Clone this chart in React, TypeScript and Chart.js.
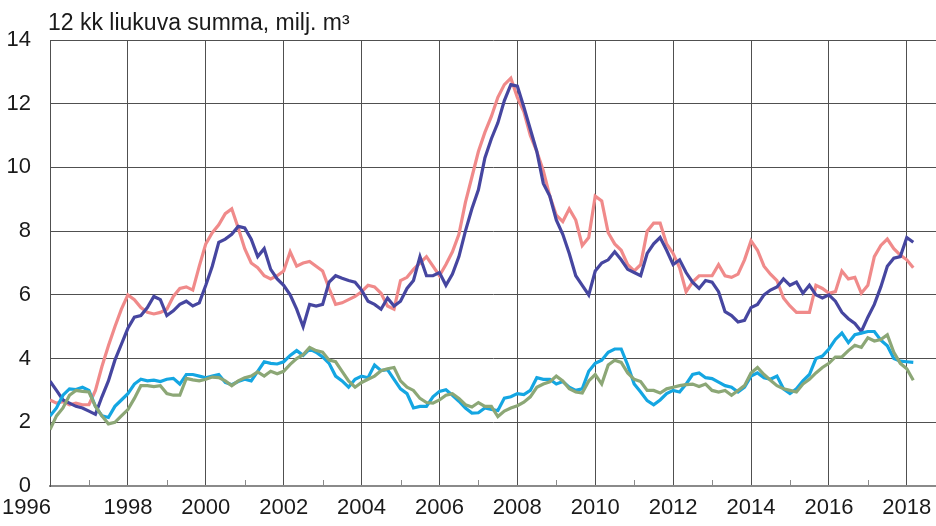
import React, { useEffect, useRef } from "react";
import { Chart, registerables } from "chart.js";

Chart.register(...registerables);

const START_YEAR = 1996;
const STEPS_PER_YEAR = 6;
const X_MIN = 1996;
const X_MAX = 2018.75;
const yTickValues = [0, 2, 4, 6, 8, 10, 12, 14];
const xTickYears = [1996, 1998, 2000, 2002, 2004, 2006, 2008, 2010, 2012, 2014, 2016, 2018];
const minorTickYears = [1997, 1999, 2001, 2003, 2005, 2007, 2009, 2011, 2013, 2015, 2017];
const titleText = "12 kk liukuva summa, milj. m³";

// bimonthly values from 1996.0
const pinkSeries = [
  2.7, 2.6, 2.65, 2.55, 2.6, 2.55,
  2.55, 3.0, 3.75, 4.4, 5.0, 5.55,
  6.0, 5.85, 5.6, 5.45, 5.4, 5.45,
  5.55, 5.95, 6.2, 6.25, 6.15, 6.9,
  7.6, 7.95, 8.2, 8.55, 8.7, 8.1,
  7.45, 7.0, 6.85, 6.6, 6.5, 6.6,
  6.75, 7.35, 6.9, 7.0, 7.05, 6.9,
  6.75, 6.2, 5.7, 5.75, 5.85, 5.95,
  6.1, 6.3, 6.25, 6.05, 5.65, 5.55,
  6.45, 6.55, 6.8, 7.0, 7.2, 6.9,
  6.6, 6.95, 7.35, 7.9, 8.9, 9.7,
  10.5, 11.1, 11.6, 12.2, 12.6, 12.8,
  12.2, 11.75, 11.0, 10.5, 9.9, 9.1,
  8.5, 8.3, 8.7, 8.35, 7.55, 7.8,
  9.1, 8.95, 7.95, 7.6, 7.4, 6.95,
  6.75, 6.95, 8.0, 8.25, 8.25, 7.6,
  7.3, 6.85, 6.1, 6.4, 6.6, 6.6,
  6.6, 6.95, 6.6, 6.55, 6.65, 7.1,
  7.7, 7.4, 6.9, 6.65, 6.45, 5.9,
  5.65, 5.45, 5.45, 5.45, 6.3, 6.2,
  6.05, 6.1, 6.75, 6.5, 6.55, 6.05,
  6.3, 7.2, 7.55, 7.75, 7.45, 7.25,
  7.1, 6.85,
];

const blueSeries = [
  3.29, 3.0, 2.7, 2.6, 2.5, 2.45,
  2.35, 2.25, 2.8, 3.3, 3.95, 4.45,
  4.95, 5.3, 5.35, 5.6, 5.95, 5.85,
  5.35, 5.5, 5.7, 5.8, 5.65, 5.75,
  6.3, 6.9, 7.65, 7.75, 7.9, 8.15,
  8.1, 7.75, 7.2, 7.45, 6.8, 6.5,
  6.3, 6.0, 5.55, 5.0, 5.7, 5.65,
  5.7, 6.4, 6.6, 6.52, 6.45, 6.4,
  6.15, 5.8, 5.7, 5.55, 5.9, 5.65,
  5.8, 6.2, 6.45, 7.2, 6.6, 6.6,
  6.7, 6.3, 6.65, 7.2, 8.0, 8.7,
  9.3, 10.3, 10.9, 11.4, 12.1, 12.6,
  12.55, 11.9, 11.2, 10.5, 9.5, 9.1,
  8.35, 7.9, 7.3, 6.6, 6.3, 6.0,
  6.75, 7.0, 7.1, 7.35, 7.1, 6.8,
  6.7, 6.6, 7.3, 7.6, 7.8, 7.4,
  6.95, 7.1, 6.7, 6.4, 6.2, 6.45,
  6.4, 6.1, 5.47, 5.35, 5.15, 5.2,
  5.6, 5.7, 6.0, 6.15, 6.25, 6.5,
  6.3, 6.4, 6.05, 6.3, 6.0, 5.9,
  6.0, 5.8, 5.45, 5.25, 5.1, 4.85,
  5.3, 5.7, 6.25, 6.9, 7.15, 7.2,
  7.8, 7.65,
];

const cyanSeries = [
  2.2, 2.45, 2.85, 3.05, 3.03, 3.1,
  3.0, 2.5, 2.2, 2.15, 2.5, 2.7,
  2.9, 3.2, 3.35, 3.3, 3.32, 3.28,
  3.35, 3.38, 3.2, 3.5, 3.5, 3.45,
  3.4, 3.45, 3.5, 3.25, 3.18, 3.28,
  3.35, 3.3, 3.6, 3.9, 3.85, 3.83,
  3.9, 4.1, 4.25, 4.1, 4.3, 4.2,
  4.05, 3.85, 3.45, 3.3, 3.1, 3.35,
  3.45, 3.4, 3.8, 3.62, 3.65, 3.35,
  3.05, 2.9, 2.45, 2.5, 2.5, 2.8,
  2.97, 3.02, 2.85, 2.66, 2.45, 2.29,
  2.3, 2.45, 2.4, 2.37, 2.76, 2.8,
  2.9, 2.87, 3.0, 3.4, 3.35, 3.35,
  3.2, 3.28, 3.1, 3.0, 3.05, 3.6,
  3.85, 3.95, 4.2, 4.3, 4.3, 3.8,
  3.2, 2.95, 2.68, 2.55, 2.7, 2.9,
  3.0, 2.95, 3.2, 3.5, 3.55, 3.4,
  3.37, 3.26, 3.15, 3.1, 2.95, 3.1,
  3.45, 3.55, 3.4, 3.35, 3.45, 3.05,
  2.9, 3.05, 3.3, 3.5, 4.0, 4.08,
  4.3, 4.6, 4.8, 4.5, 4.75, 4.8,
  4.85, 4.85, 4.58, 4.4, 4.0, 3.92,
  3.9, 3.88,
];

const greenSeries = [
  1.77, 2.2, 2.45, 2.85, 3.0, 2.97,
  2.95, 2.5, 2.2, 1.95, 2.0, 2.2,
  2.4, 2.75, 3.15, 3.15, 3.12, 3.15,
  2.9, 2.85, 2.85, 3.38, 3.33, 3.3,
  3.35, 3.42, 3.4, 3.3, 3.15, 3.3,
  3.4, 3.45, 3.58, 3.45, 3.6, 3.52,
  3.6, 3.82, 4.0, 4.12, 4.35, 4.25,
  4.2, 3.95, 3.9, 3.6, 3.3, 3.1,
  3.25, 3.35, 3.45, 3.62, 3.68, 3.72,
  3.3, 3.1, 3.0, 2.75, 2.62, 2.6,
  2.7, 2.85, 2.9, 2.75, 2.55, 2.48,
  2.62, 2.5, 2.5, 2.18, 2.35, 2.45,
  2.52, 2.63, 2.8, 3.1, 3.2, 3.27,
  3.45, 3.3, 3.05, 2.95, 2.92, 3.3,
  3.5, 3.2, 3.8, 3.95, 3.88, 3.55,
  3.35, 3.28, 3.0, 3.0, 2.92, 3.05,
  3.1, 3.15, 3.18, 3.2, 3.12, 3.2,
  3.0, 2.95, 3.0, 2.85, 3.0, 3.15,
  3.55, 3.72, 3.5, 3.32, 3.15, 3.05,
  3.0, 2.95, 3.2, 3.35, 3.55, 3.72,
  3.85, 4.05, 4.05, 4.25, 4.42, 4.35,
  4.65, 4.55, 4.6, 4.75, 4.2, 3.85,
  3.68, 3.32,
];

const FONT = '22px "Liberation Sans", Arial, sans-serif';
const TITLE_FONT = '23px "Liberation Sans", Arial, sans-serif';
const TEXT_COLOR = "#1a1a1a";
const GRID_COLOR = "#505050";

export default function App() {
  const canvasRef = useRef<HTMLCanvasElement | null>(null);

  useEffect(() => {
    const canvas = canvasRef.current;
    if (!canvas) return;
    const toPoints = (arr: number[]) =>
      arr.map((v, i) => ({ x: START_YEAR + i / STEPS_PER_YEAR, y: v }));

    const labelPlugin = {
      id: "customLabels",
      afterDraw(chart: any) {
        const { ctx, chartArea, scales } = chart;
        const xs = scales.x;
        const ys = scales.y;
        ctx.save();
        ctx.fillStyle = TEXT_COLOR;
        // title
        ctx.font = TITLE_FONT;
        ctx.textAlign = "left";
        ctx.textBaseline = "alphabetic";
        ctx.fillText(titleText, chartArea.left - 2, 30);
        ctx.font = FONT;
        // y labels
        ctx.textAlign = "right";
        ctx.textBaseline = "middle";
        yTickValues.forEach((v) => {
          ctx.fillText(String(v), chartArea.left - 19, ys.getPixelForValue(v));
        });
        // x labels
        ctx.textBaseline = "top";
        xTickYears.forEach((yr, i) => {
          const label = String(yr);
          const px = xs.getPixelForValue(yr);
          if (i === 0) {
            ctx.textAlign = "left";
            ctx.fillText(label, 2, chartArea.bottom + 11);
          } else {
            ctx.textAlign = "center";
            ctx.fillText(label, px, chartArea.bottom + 11);
          }
        });
        // minor ticks
        ctx.strokeStyle = "#8a8a8a";
        ctx.lineWidth = 1;
        minorTickYears.forEach((yr) => {
          const px = Math.round(xs.getPixelForValue(yr)) + 0.5;
          ctx.beginPath();
          ctx.moveTo(px, chartArea.bottom);
          ctx.lineTo(px, chartArea.bottom - 6);
          ctx.stroke();
        });
        ctx.restore();
      },
    };

    const chart = new Chart(canvas, {
      type: "line",
      data: {
        datasets: [
          {
            label: "green",
            data: toPoints(greenSeries),
            borderColor: "#8ca776",
            borderWidth: 3.2,
            pointRadius: 0,
            order: 0,
          },
          {
            label: "cyan",
            data: toPoints(cyanSeries),
            borderColor: "#14a6e2",
            borderWidth: 3.2,
            pointRadius: 0,
            order: 1,
          },
          {
            label: "blue",
            data: toPoints(blueSeries),
            borderColor: "#4646a0",
            borderWidth: 3.2,
            pointRadius: 0,
            order: 2,
          },
          {
            label: "pink",
            data: toPoints(pinkSeries),
            borderColor: "#f08a8a",
            borderWidth: 3.2,
            pointRadius: 0,
            order: 3,
          },
        ],
      },
      options: {
        responsive: false,
        animation: false,
        devicePixelRatio: 1,
        layout: { padding: { top: 40, left: 50, right: 0, bottom: 40 } },
        plugins: {
          legend: { display: false },
          tooltip: { enabled: false },
          title: { display: false },
        },
        elements: { line: { tension: 0 } },
        scales: {
          x: {
            type: "linear",
            min: X_MIN,
            max: X_MAX,
            ticks: { display: false, stepSize: 2, includeBounds: false },
            grid: { color: GRID_COLOR, lineWidth: 1, drawTicks: false },
            border: { display: true, color: "#8a8a8a", width: 2 },
          },
          y: {
            min: 0,
            max: 14,
            ticks: { display: false, stepSize: 2 },
            grid: { color: GRID_COLOR, lineWidth: 1, drawTicks: false },
            border: { display: true, color: GRID_COLOR, width: 1 },
          },
        },
      },
      plugins: [labelPlugin],
    });
    return () => chart.destroy();
  }, []);

  return (
    <div style={{ position: "fixed", left: 0, top: 0, width: 936, height: 526, background: "#fff" }}>
      <canvas ref={canvasRef} width={936} height={526} style={{ display: "block" }} />
    </div>
  );
}
